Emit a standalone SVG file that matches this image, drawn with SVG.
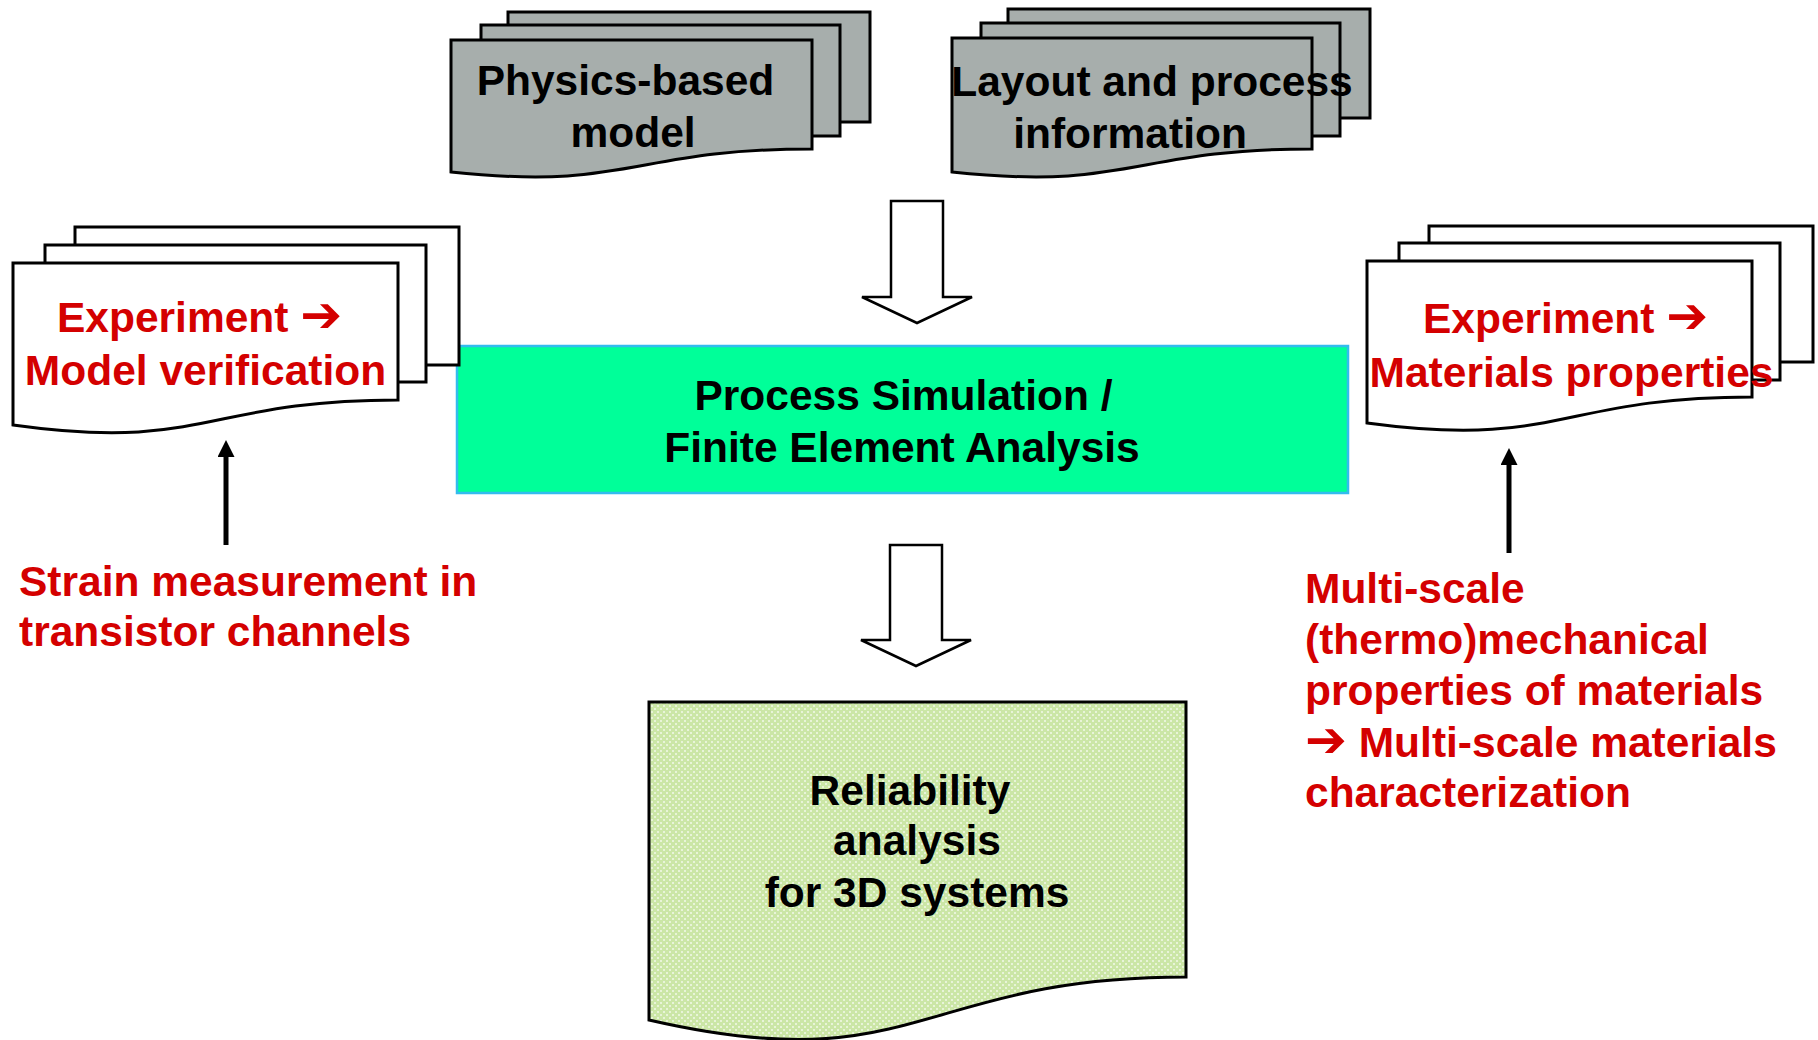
<svg xmlns="http://www.w3.org/2000/svg" width="1818" height="1040" viewBox="0 0 1818 1040">
  <defs>
    <style>
      text { font-family: "Liberation Sans", Arial, "DejaVu Sans", sans-serif; font-weight: bold; font-size: 42.5px; }
      .blk { fill: #000000; }
      .red { fill: #D40000; }
      .mid { text-anchor: middle; }
      .arr { font-family: "DejaVu Sans", sans-serif; font-size: 50px; }
      .sheet { stroke: #000000; stroke-width: 3; }
      .gray { fill: #A7AEAC; }
      .white { fill: #FFFFFF; }
      .hollow { fill: #FFFFFF; stroke: #000000; stroke-width: 2.5; stroke-linejoin: miter; }
      .thin { stroke: #000000; stroke-width: 5; fill: none; }
    </style>
    <pattern id="dots" width="6" height="6" patternUnits="userSpaceOnUse">
      <rect width="6" height="6" fill="#CBE6A6"/>
      <rect x="0" y="0" width="2" height="2" fill="#E8F4D8"/>
      <rect x="3" y="3" width="2" height="2" fill="#E8F4D8"/>
    </pattern>
    <marker id="head" viewBox="0 0 10 10" refX="0" refY="5" markerWidth="3.6" markerHeight="3.4" markerUnits="strokeWidth" orient="auto">
      <path d="M0,0 L10,5 L0,10 Z" fill="#000000"/>
    </marker>
  </defs>

  <rect width="1818" height="1040" fill="#FFFFFF"/>

  <!-- Central process box -->
  <g id="process-simulation">
    <rect x="457" y="346" width="891" height="147" fill="#00FF99" stroke="#33BBEE" stroke-width="2.5"/>
    <text class="blk mid" x="903.5" y="410">Process Simulation /</text>
    <text class="blk mid" x="902" y="462">Finite Element Analysis</text>
  </g>

  <!-- Physics-based model (gray stacked documents) -->
  <g id="physics-based-model">
    <rect class="sheet gray" x="508" y="12" width="362" height="110"/>
    <rect class="sheet gray" x="481" y="25" width="359" height="111"/>
    <path class="sheet gray" d="M451,40 H812 V149 C631.5,149 631.5,191 451,172 Z"/>
    <text class="blk mid" x="625.5" y="95">Physics-based</text>
    <text class="blk mid" x="633" y="147">model</text>
  </g>

  <!-- Layout and process information -->
  <g id="layout-process-information">
    <rect class="sheet gray" x="1008" y="9" width="362" height="109"/>
    <rect class="sheet gray" x="981" y="23" width="359" height="113"/>
    <path class="sheet gray" d="M952,38 H1312 V149 C1132,149 1132,191 952,172 Z"/>
    <text class="blk mid" x="1152" y="96">Layout and process</text>
    <text class="blk mid" x="1130" y="148">information</text>
  </g>

  <!-- Experiment -> Model verification -->
  <g id="experiment-model-verification">
    <rect class="sheet white" x="75" y="227" width="384" height="138"/>
    <rect class="sheet white" x="45" y="245" width="381" height="137"/>
    <path class="sheet white" d="M13,263 H398 V400 C205.5,400 205.5,452 13,425 Z"/>
    <text class="red" x="57" y="332">Experiment <tspan class="arr">➔</tspan></text>
    <text class="red mid" x="205.5" y="385">Model verification</text>
  </g>

  <!-- Experiment -> Materials properties -->
  <g id="experiment-materials-properties">
    <rect class="sheet white" x="1429" y="226" width="384" height="136"/>
    <rect class="sheet white" x="1399" y="243" width="381" height="137"/>
    <path class="sheet white" d="M1367,261 H1752 V397 C1559.5,397 1559.5,449 1367,423 Z"/>
    <text class="red" x="1423" y="333">Experiment <tspan class="arr">➔</tspan></text>
    <text class="red mid" x="1571.5" y="387">Materials properties</text>
  </g>

  <!-- Reliability analysis -->
  <g id="reliability-analysis">
    <path d="M649,702 H1186 V977 C917.5,977 917.5,1082 649,1020 Z" fill="url(#dots)" stroke="#000000" stroke-width="3"/>
    <text class="blk mid" x="910" y="805">Reliability</text>
    <text class="blk mid" x="917" y="855">analysis</text>
    <text class="blk mid" x="917" y="907">for 3D systems</text>
  </g>

  <!-- Strain measurement label -->
  <g id="strain-measurement">
    <text class="red" x="19" y="596">Strain measurement in</text>
    <text class="red" x="19" y="646">transistor channels</text>
  </g>

  <!-- Multi-scale label -->
  <g id="multi-scale-characterization">
    <text class="red" x="1305" y="603">Multi-scale</text>
    <text class="red" x="1305" y="654">(thermo)mechanical</text>
    <text class="red" x="1305" y="705">properties of materials</text>
    <text class="red" x="1305" y="757"><tspan class="arr">➔</tspan> Multi-scale materials</text>
    <text class="red" x="1305" y="807">characterization</text>
  </g>

  <!-- Connectors -->
  <g id="connectors">
    <polygon class="hollow" points="891,201 943,201 943,297 972,297 917,323 862,297 891,297"/>
    <polygon class="hollow" points="890,545 942,545 942,640 971,640 916,666 861,640 890,640"/>
    <line class="thin" x1="226" y1="545" x2="226" y2="457" marker-end="url(#head)"/>
    <line class="thin" x1="1509" y1="553" x2="1509" y2="465" marker-end="url(#head)"/>
  </g>
</svg>
